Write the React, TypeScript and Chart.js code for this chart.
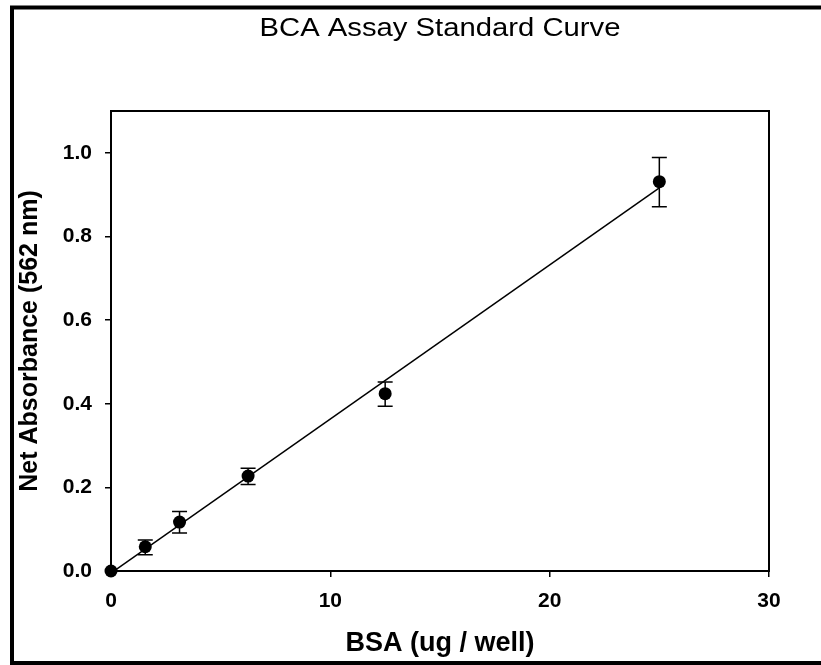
import React, { useEffect, useRef } from "react";
import { Chart, registerables } from "chart.js";

Chart.register(...registerables);

const bsa = [0, 1.5625, 3.125, 6.25, 12.5, 25];
const absorbance = [0, 0.058, 0.117, 0.227, 0.424, 0.931];
const errLow = [0, 0.039, 0.091, 0.207, 0.394, 0.871];
const errHigh = [0, 0.074, 0.142, 0.246, 0.452, 0.989];
const fitX = [0, 25];
const fitY = [-0.005, 0.916];
const yTicks = [0, 0.2, 0.4, 0.6, 0.8, 1.0];
const xTicks = [0, 10, 20, 30];
const chartTitle = "BCA Assay Standard Curve";
const xTitle = "BSA (ug / well)";
const yTitle = "Net Absorbance (562 nm)";

const FONT = "'Liberation Sans', Arial, sans-serif";

const decorPlugin = {
  id: "decor",
  beforeDatasetsDraw(chart: any) {
    const { ctx, scales } = chart;
    const xs = scales.x;
    const ys = scales.y;
    ctx.save();
    ctx.strokeStyle = "#000";
    ctx.lineWidth = 1.5;
    bsa.forEach((xv, i) => {
      if (errHigh[i] - errLow[i] <= 0) return;
      const px = xs.getPixelForValue(xv);
      const top = ys.getPixelForValue(errHigh[i]);
      const bot = ys.getPixelForValue(errLow[i]);
      const cap = 7.5;
      ctx.beginPath();
      ctx.moveTo(px, top);
      ctx.lineTo(px, bot);
      ctx.moveTo(px - cap, top);
      ctx.lineTo(px + cap, top);
      ctx.moveTo(px - cap, bot);
      ctx.lineTo(px + cap, bot);
      ctx.stroke();
    });
    ctx.restore();
  },
  afterDraw(chart: any) {
    const { ctx, chartArea } = chart;
    const { left, top, right, bottom } = chartArea;
    const cx = (left + right) / 2;
    const cy = (top + bottom) / 2;
    ctx.save();
    // plot box
    ctx.strokeStyle = "#000";
    ctx.lineWidth = 2;
    ctx.strokeRect(left, top, right - left, bottom - top);
    // outer frame
    ctx.lineWidth = 4;
    ctx.strokeRect(12, 7.5, 840, 655.5);
    ctx.fillStyle = "#000";
    ctx.textAlign = "center";
    ctx.textBaseline = "alphabetic";
    // title (slightly widened like the reference)
    ctx.save();
    ctx.translate(cx, 36);
    ctx.scale(1.17, 1);
    ctx.font = `normal 25px ${FONT}`;
    ctx.fillText(chartTitle, 0, 0);
    ctx.restore();
    // x title
    ctx.font = `bold 27px ${FONT}`;
    ctx.fillText(xTitle, cx, 651);
    // y title
    ctx.translate(37, cy);
    ctx.rotate(-Math.PI / 2);
    ctx.font = `bold 25px ${FONT}`;
    ctx.fillText(yTitle, 0, 0);
    ctx.restore();
  },
};

export default function App() {
  const ref = useRef<HTMLCanvasElement>(null);
  useEffect(() => {
    if (!ref.current) return;
    const chart = new Chart(ref.current, {
      type: "scatter",
      data: {
        datasets: [
          {
            label: "fit",
            data: fitX.map((x, i) => ({ x, y: fitY[i] })),
            showLine: true,
            pointRadius: 0,
            borderColor: "#000",
            borderWidth: 1.5,
            fill: false,
          },
          {
            label: "BSA",
            data: bsa.map((x, i) => ({ x, y: absorbance[i] })),
            pointRadius: 6.5,
            pointHoverRadius: 6.5,
            backgroundColor: "#000",
            borderColor: "#000",
            borderWidth: 0,
            clip: false,
          },
        ],
      },
      options: {
        animation: false,
        responsive: false,
        events: [],
        layout: { padding: { top: 111, right: 52, left: 0, bottom: 0 } },
        plugins: {
          legend: { display: false },
          tooltip: { enabled: false },
          title: { display: false },
        },
        scales: {
          x: {
            type: "linear",
            min: 0,
            max: 30,
            afterFit: (s: any) => {
              s.height = 94;
            },
            afterBuildTicks: (s: any) => {
              s.ticks = xTicks.map((v) => ({ value: v }));
            },
            ticks: {
              color: "#000",
              padding: 12,
              font: { family: FONT, size: 21, weight: "bold" },
              callback: (v: any) => String(v),
              maxRotation: 0,
            },
            grid: {
              drawOnChartArea: false,
              drawTicks: true,
              tickLength: 6,
              color: "#000",
              lineWidth: 1.5,
            },
            border: { display: true, color: "#000", width: 2 },
          },
          y: {
            type: "linear",
            min: 0,
            max: 1.1,
            afterFit: (s: any) => {
              s.width = 111;
            },
            afterBuildTicks: (s: any) => {
              s.ticks = yTicks.map((v) => ({ value: v }));
            },
            ticks: {
              color: "#000",
              padding: 13,
              font: { family: FONT, size: 21, weight: "bold" },
              callback: (v: any) => Number(v).toFixed(1),
            },
            grid: {
              drawOnChartArea: false,
              drawTicks: true,
              tickLength: 6,
              color: "#000",
              lineWidth: 1.5,
            },
            border: { display: true, color: "#000", width: 2 },
          },
        },
      },
      plugins: [decorPlugin],
    });
    return () => chart.destroy();
  }, []);
  return (
    <div style={{ position: "fixed", left: 0, top: 0, width: 821, height: 665, background: "#fff" }}>
      <canvas ref={ref} width={821} height={665} />
    </div>
  );
}
